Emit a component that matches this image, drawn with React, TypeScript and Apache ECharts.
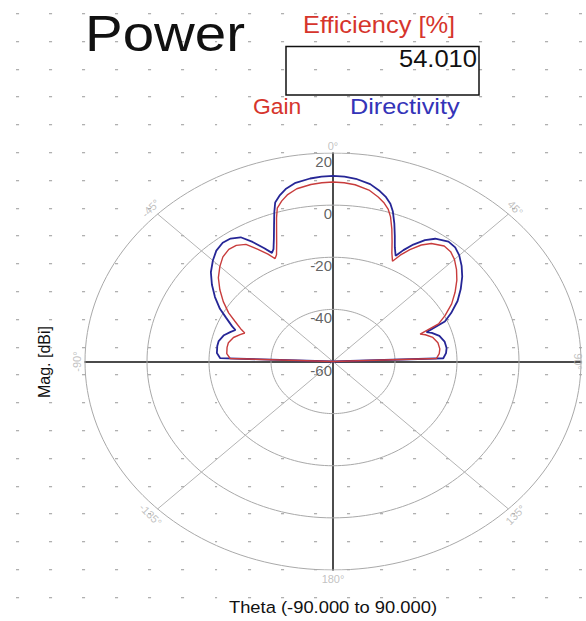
import React, { useEffect, useRef } from "react";
import * as echarts from "echarts";

// Polar radiation pattern, theta in degrees (-90..90), magnitude in dBi
const thetaDeg = [
  -90, -88, -85, -81, -78, -74, -71, -69, -67.5, -64,
  -61, -57, -53, -49, -45, -41.5, -38, -35, -32, -29.5,
  -27, -25.3, -24, -22, -20, -18.3, -17, -15, -13, -10,
  -6, -3, 0,
  3, 6, 10, 13, 15, 17, 18.5, 20.5, 22.5, 24.5,
  26.5, 28, 30, 32.5, 35, 39, 42, 45, 48.5, 52,
  56, 60, 64, 67, 69.5, 71, 74, 78, 82, 85,
  88, 90,
];

const gainDb = [
  -60, -26.8, -25.6, -25.4, -25.5, -26.6, -28.3, -29.5, -28, -24.8,
  -21.5, -17.8, -14.3, -11, -8.4, -6.4, -5.4, -5.6, -7.0, -10.5,
  -13.8, -16.3, -15.2, -11.5, -6.8, -2.0, 1.5, 3.8, 5.6, 7.3,
  8.3, 8.7, 8.9,
  8.7, 8.2, 6.8, 4.8, 3.2, 1.0, -1.5, -5.8, -10.2, -14.2,
  -17.0, -13.8, -10.4, -7.0, -4.7, -3.0, -3.3, -4.6, -6.8, -9.3,
  -12.5, -15.8, -19.8, -23, -30, -28.5, -26.5, -25.4, -25.2, -25.6,
  -26.6, -60,
];

const directivityDb = [
  -60, -23.6, -22.4, -22.2, -22.3, -23.4, -25.1, -26.3, -24.8, -21.6,
  -18.3, -14.6, -11.1, -7.8, -5.2, -3.2, -2.2, -2.4, -3.8, -7.3,
  -11.2, -13.9, -12.8, -9.1, -4.4, 0.3, 3.8, 6.1, 7.9, 9.6,
  10.6, 11.0, 11.2,
  11.0, 10.5, 9.1, 7.1, 5.5, 3.3, 0.8, -3.5, -7.9, -11.9,
  -14.7, -11.6, -8.2, -4.8, -2.5, -0.8, -1.1, -2.4, -4.6, -7.1,
  -10.3, -13.6, -17.6, -20.8, -27.8, -26.3, -24.3, -23.2, -23.0, -23.4,
  -24.4, -60,
];

const radialTicks = [-60, -40, -20, 0, 20];
const angleTicks = [0, 45, 90, 135, 180, -135, -90, -45];
const angleLabels = ["0°", "45°", "90°", "135°", "180°", "-135°", "-90°", "-45°"];
const efficiencyText = "54.010";

const R_MIN = -60;
const R_MAX = 20;
const SPAN = R_MAX - R_MIN;
const FONT = "Liberation Sans, Arial, sans-serif";

const toXY = (deg: number, db: number) => {
  const rr = Math.max(0, db - R_MIN);
  const a = (deg * Math.PI) / 180;
  return [rr * Math.sin(a), rr * Math.cos(a)];
};

const dotSvg =
  "data:image/svg+xml;utf8," +
  encodeURIComponent(
    "<svg xmlns='http://www.w3.org/2000/svg' width='33.1' height='27.8' viewBox='0 0 33.1 27.8'><rect x='0' y='0' width='3' height='1.3' fill='#b0b0b0'/></svg>"
  );

export default function App() {
  const ref = useRef<HTMLDivElement>(null);

  useEffect(() => {
    if (!ref.current) return;
    const chart = echarts.init(ref.current, null, { renderer: "svg" });

    const ringColor = "#a9a9a9";
    const ringSeries = radialTicks
      .filter((v) => v > R_MIN)
      .map((v) => {
        const pts: number[][] = [];
        for (let d = 0; d <= 360; d += 2) pts.push(toXY(d, v));
        return {
          type: "line",
          data: pts,
          showSymbol: false,
          silent: true,
          smooth: false,
          lineStyle: { color: ringColor, width: 1 },
          z: 1,
        };
      });

    const diagSeries = [45, 135, -45, -135].map((a) => ({
      type: "line",
      data: [toXY(a, R_MIN), toXY(a, R_MAX)],
      showSymbol: false,
      silent: true,
      lineStyle: { color: "#b4b4b4", width: 1 },
      z: 1,
    }));

    const labelRot: Record<number, number> = {
      0: 0, 180: 0, 45: -45, [-45]: 45, 90: -90, [-90]: 90, 135: 45, [-135]: -45,
    };
    const labelR: Record<number, number> = {
      0: 82.5, 180: 83.5, 45: 83.2, [-45]: 83.2, 90: 79.0, [-90]: 82.7, 135: 83.2, [-135]: 83.2,
    };
    const angleLabelData = angleTicks.map((a, i) => {
      const r = labelR[a];
      const rad = (a * Math.PI) / 180;
      return {
        name: angleLabels[i],
        value: [r * Math.sin(rad), r * Math.cos(rad)],
        label: { rotate: labelRot[a] },
      };
    });

    const radialLabelData = radialTicks.map((v) => ({
      name: String(v),
      value: [0, v - R_MIN],
    }));

    const option: any = {
      animation: false,
      backgroundColor: "transparent",
      grid: { left: 85, right: 5, top: 153, bottom: 51, containLabel: false },
      xAxis: {
        type: "value",
        min: -SPAN,
        max: SPAN,
        axisLine: { show: true, onZero: true, lineStyle: { color: "#111", width: 1.5 } },
        axisTick: { show: false },
        axisLabel: { show: false },
        splitLine: { show: false },
      },
      yAxis: {
        type: "value",
        min: -SPAN,
        max: SPAN,
        interval: 20,
        axisLine: { show: true, onZero: true, lineStyle: { color: "#111", width: 1.5 } },
        axisTick: { show: false },
        splitLine: { show: false },
        axisLabel: { show: false },
      },
      graphic: [
        {
          type: "text",
          x: 85,
          y: 34,
          scaleX: 1.13,
          style: {
            text: "Power",
            fontFamily: FONT,
            fontSize: 50,
            fill: "#111",
            textAlign: "left",
            textVerticalAlign: "middle",
          },
        },
        {
          type: "text",
          x: 303,
          y: 25,
          scaleX: 1.06,
          style: {
            text: "Efficiency [%]",
            fontFamily: FONT,
            fontSize: 24,
            fill: "#d6352c",
            textAlign: "left",
            textVerticalAlign: "middle",
          },
        },
        {
          type: "rect",
          shape: { x: 286, y: 46.5, width: 193, height: 48.5 },
          style: { fill: "none", stroke: "#111", lineWidth: 1.5 },
        },
        {
          type: "text",
          x: 477,
          y: 58.5,
          scaleX: 1.11,
          style: {
            text: efficiencyText,
            fontFamily: FONT,
            fontSize: 23,
            fill: "#111",
            textAlign: "right",
            textVerticalAlign: "middle",
          },
        },
        {
          type: "text",
          x: 253,
          y: 107,
          scaleX: 1.04,
          style: {
            text: "Gain",
            fontFamily: FONT,
            fontSize: 22,
            fill: "#d6352c",
            textAlign: "left",
            textVerticalAlign: "middle",
          },
        },
        {
          type: "text",
          x: 350,
          y: 107,
          scaleX: 1.15,
          style: {
            text: "Directivity",
            fontFamily: FONT,
            fontSize: 22,
            fill: "#3434b8",
            textAlign: "left",
            textVerticalAlign: "middle",
          },
        },
        {
          type: "text",
          x: 333,
          y: 607,
          scaleX: 1.08,
          style: {
            text: "Theta (-90.000 to 90.000)",
            fontFamily: FONT,
            fontSize: 17,
            fill: "#111",
            textAlign: "center",
            textVerticalAlign: "middle",
          },
        },
        {
          type: "text",
          x: 44,
          y: 362,
          rotation: Math.PI / 2,
          style: {
            text: "Mag. [dBi]",
            fontFamily: FONT,
            fontSize: 16,
            fill: "#111",
            textAlign: "center",
            textVerticalAlign: "middle",
          },
        },
      ],
      series: [
        ...ringSeries,
        ...diagSeries,
        {
          type: "line",
          name: "Directivity",
          data: thetaDeg.map((t, i) => toXY(t, directivityDb[i])),
          showSymbol: false,
          lineStyle: { color: "#262696", width: 1.8 },
          z: 3,
        },
        {
          type: "line",
          name: "Gain",
          data: thetaDeg.map((t, i) => toXY(t, gainDb[i])),
          showSymbol: false,
          lineStyle: { color: "#c83c3c", width: 1.4 },
          z: 4,
        },
        {
          type: "scatter",
          data: angleLabelData,
          symbolSize: 0.1,
          clip: false,
          silent: true,
          itemStyle: { color: "rgba(0,0,0,0)" },
          label: {
            show: true,
            position: "inside",
            formatter: "{b}",
            fontFamily: FONT,
            fontSize: 11,
            color: "#b2b2b2",
          },
          z: 5,
        },
        {
          type: "scatter",
          data: radialLabelData,
          symbolSize: 0.1,
          clip: false,
          silent: true,
          itemStyle: { color: "rgba(0,0,0,0)" },
          label: {
            show: true,
            position: "inside",
            align: "right",
            verticalAlign: "top",
            offset: [-1, 1],
            formatter: "{b}",
            fontFamily: FONT,
            fontSize: 15,
            color: "#3a3a3a",
          },
          z: 6,
        },
      ],
    };

    chart.setOption(option);
    return () => chart.dispose();
  }, []);

  return (
    <div
      style={{
        position: "absolute",
        left: 0,
        top: 0,
        width: 586,
        height: 621,
        backgroundColor: "#fff",
        backgroundImage: `url("${dotSvg}")`,
        backgroundSize: "33.1px 27.8px",
        backgroundPosition: "16px 13px",
        backgroundRepeat: "repeat",
      }}
    >
      <div ref={ref} style={{ width: 586, height: 621 }} />
    </div>
  );
}
